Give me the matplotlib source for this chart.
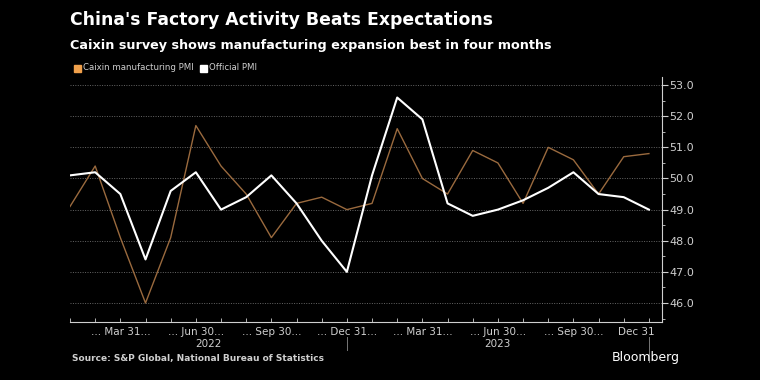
import numpy as np
import matplotlib
matplotlib.use('Agg')
import matplotlib.pyplot as plt
import matplotlib.transforms as mtransforms

# monthly PMI readings, Jan 2022 .. Dec 2023
months = ['2022-01', '2022-02', '2022-03', '2022-04', '2022-05', '2022-06',
          '2022-07', '2022-08', '2022-09', '2022-10', '2022-11', '2022-12',
          '2023-01', '2023-02', '2023-03', '2023-04', '2023-05', '2023-06',
          '2023-07', '2023-08', '2023-09', '2023-10', '2023-11', '2023-12']
caixin = [49.1, 50.4, 48.1, 46.0, 48.1, 51.7, 50.4, 49.5, 48.1, 49.2, 49.4, 49.0,
          49.2, 51.6, 50.0, 49.5, 50.9, 50.5, 49.2, 51.0, 50.6, 49.5, 50.7, 50.8]
official = [50.1, 50.2, 49.5, 47.4, 49.6, 50.2, 49.0, 49.4, 50.1, 49.2, 48.0, 47.0,
            50.1, 52.6, 51.9, 49.2, 48.8, 49.0, 49.3, 49.7, 50.2, 49.5, 49.4, 49.0]
quarter_labels = ['... Mar 31...', '... Jun 30...', '... Sep 30...', '... Dec 31...',
                  '... Mar 31...', '... Jun 30...', '... Sep 30...', 'Dec 31']
years = ['2022', '2023']
yticks = [46, 47, 48, 49, 50, 51, 52, 53]

BG = '#000000'
GREY = '#cfcfcf'
CAIXIN_LINE = '#9a6a3e'
CAIXIN_KEY = '#f0a04b'

plt.rcParams['font.family'] = ['DejaVu Sans']

fig = plt.figure(figsize=(7.6, 3.8), dpi=100, facecolor=BG)
ax = fig.add_axes([70/760, 1-322/380, 592/760, 245/380])
ax.set_facecolor(BG)

x = np.arange(len(months))
ax.plot(x, caixin, color=CAIXIN_LINE, lw=1.0, zorder=3)
ax.plot(x, official, color='white', lw=1.5, zorder=4)

ax.set_xlim(0, 23.52)
ax.set_ylim(45.39, 53.26)

for s in ['top', 'left']:
    ax.spines[s].set_visible(False)
ax.spines['right'].set_color(GREY)
ax.spines['bottom'].set_color(GREY)
ax.spines['right'].set_linewidth(0.8)
ax.spines['bottom'].set_linewidth(0.8)

ax.yaxis.tick_right()
ax.set_yticks(yticks)
ax.set_yticklabels(['%.1f' % v for v in yticks])
ax.set_yticks(np.arange(45.5, 53.5, 0.5), minor=True)
ax.tick_params(axis='y', which='major', colors=GREY, labelsize=8, length=4, width=0.8, pad=1)
ax.tick_params(axis='y', which='minor', colors=GREY, length=2, width=0.6)
ax.grid(axis='y', which='major', color='#666666', ls=(0, (1, 1.5)), lw=0.7)

ax.set_xticks(x)
ax.set_xticklabels([])
ax.tick_params(axis='x', which='major', colors=GREY, direction='in', length=3, width=0.6)

trans = mtransforms.blended_transform_factory(ax.transData, ax.transAxes)
qpos = [2, 5, 8, 11, 14, 17, 20, 22.5]
for p, lab in zip(qpos, quarter_labels):
    ax.text(p, -0.022, lab, transform=trans, ha='center', va='top', color=GREY, fontsize=7.5)
for p, lab in zip([5.5, 17], years):
    ax.text(p, -0.068, lab, transform=trans, ha='center', va='top', color=GREY, fontsize=7.5)
# year separators
ax.plot([11, 11], [-0.06, -0.114], transform=trans, color='#777777', lw=0.7, clip_on=False)
ax.plot([23, 23], [-0.06, -0.165], transform=trans, color='#777777', lw=0.7, clip_on=False)

fig.text(70/760, 1-20/380, "China's Factory Activity Beats Expectations", color='white',
         fontsize=12.4, fontweight='bold', va='center', ha='left')
fig.text(70/760, 1-45/380, "Caixin survey shows manufacturing expansion best in four months",
         color='white', fontsize=9.2, fontweight='bold', va='center', ha='left')

fig.patches.append(plt.Rectangle((74/760, 1-71.5/380), 7/760, 7/380, color=CAIXIN_KEY,
                                 transform=fig.transFigure, figure=fig))
fig.text(83/760, 1-68/380, 'Caixin manufacturing PMI', color=GREY, fontsize=6.25,
         va='center', ha='left')
fig.patches.append(plt.Rectangle((200/760, 1-71.5/380), 7/760, 7/380, color='white',
                                 transform=fig.transFigure, figure=fig))
fig.text(209/760, 1-68/380, 'Official PMI', color=GREY, fontsize=6.25, va='center', ha='left')

fig.text(72/760, 1-358/380, 'Source: S&P Global, National Bureau of Statistics', color=GREY,
         fontsize=6.5, fontweight='bold', va='center', ha='left')
fig.text(612/760, 1-357/380, 'Bloomberg', color='white', fontsize=9, va='center', ha='left')

fig.savefig('out.png', dpi=100, facecolor=BG)
